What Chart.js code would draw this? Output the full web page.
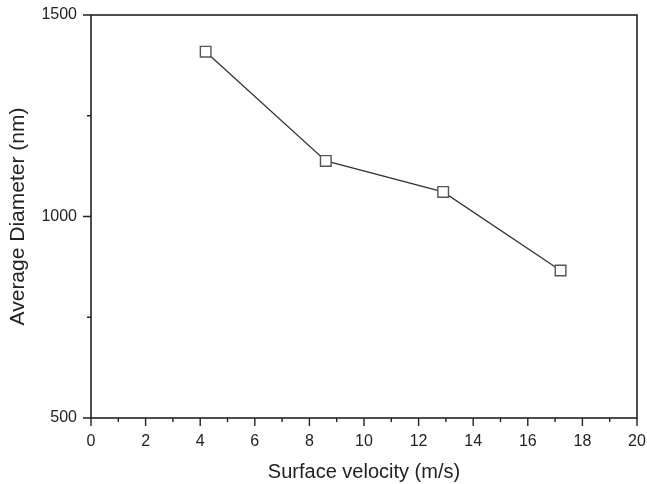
<!DOCTYPE html>
<html>
<head>
  <title>Average Diameter vs Surface velocity</title>
  <script src="https://cdn.jsdelivr.net/npm/chart.js"></script>
  <style>
    html, body { margin: 0; padding: 0; background: #fff; }
    #wrap { width: 647px; height: 484px; }
  </style>
</head>
<body>
<div id="wrap"><canvas id="diamChart" width="647" height="484"></canvas></div>
<script>
  // data
  const velocity = [4.2, 8.6, 12.9, 17.2];          // m/s
  const diameter = [1409, 1138, 1061, 866];         // nm
  const xMajor = [0, 2, 4, 6, 8, 10, 12, 14, 16, 18, 20];
  const yMajor = [500, 1000, 1500];

  const points = velocity.map((v, i) => ({ x: v, y: diameter[i] }));

  // frame + outward tick marks drawn through the scales
  const frameTicks = {
    id: 'frameTicks',
    afterDraw(chart) {
      const { ctx, chartArea: a, scales } = chart;
      const xs = scales.x, ys = scales.y;
      ctx.save();
      ctx.strokeStyle = '#222';
      ctx.lineWidth = 1.6;
      ctx.strokeRect(a.left, a.top, a.right - a.left, a.bottom - a.top);
      ctx.lineWidth = 1.4;
      ctx.beginPath();
      for (let v = xs.min; v <= xs.max; v += 1) {
        const px = xs.getPixelForValue(v);
        const len = xMajor.includes(v) ? 8 : 4;
        ctx.moveTo(px, a.bottom);
        ctx.lineTo(px, a.bottom + len);
      }
      for (let v = ys.min; v <= ys.max; v += 250) {
        const py = ys.getPixelForValue(v);
        const len = yMajor.includes(v) ? 8 : 4;
        ctx.moveTo(a.left, py);
        ctx.lineTo(a.left - len, py);
      }
      ctx.stroke();
      ctx.restore();
    }
  };

  const font = 'Liberation Sans, Arial, sans-serif';
  const ctx = document.getElementById('diamChart').getContext('2d');
  new Chart(ctx, {
    type: 'scatter',
    data: {
      datasets: [{
        label: 'Average Diameter',
        data: points,
        showLine: true,
        borderColor: '#333',
        borderWidth: 1.3,
        pointStyle: 'rect',
        pointRadius: 7.5,
        pointBorderWidth: 1.4,
        pointBorderColor: '#555',
        pointBackgroundColor: '#fff'
      }, {
        label: 'centre',
        data: points,
        showLine: false,
        pointStyle: 'circle',
        pointRadius: 0.8,
        pointBorderWidth: 0,
        pointBackgroundColor: '#999'
      }]
    },
    options: {
      responsive: false,
      animation: false,
      layout: { padding: { top: 15, right: 10, left: 0, bottom: 0 } },
      plugins: { legend: { display: false }, tooltip: { enabled: false } },
      scales: {
        x: {
          type: 'linear', min: 0, max: 20,
          afterFit(scale) {
            scale.height = 66;
            scale.paddingLeft = 0;
            scale.paddingRight = 0;
          },
          grid: { display: false, drawTicks: false },
          border: { display: false },
          ticks: {
            stepSize: 2, padding: 14,
            color: '#222', font: { family: font, size: 16 }
          },
          title: {
            display: true, text: 'Surface velocity (m/s)', color: '#222',
            font: { family: font, size: 20 },
            padding: { top: 6, bottom: 0 }
          }
        },
        y: {
          type: 'linear', min: 500, max: 1500,
          afterFit(scale) {
            scale.width = 91;
            scale.paddingTop = 0;
            scale.paddingBottom = 0;
          },
          grid: { display: false, drawTicks: false },
          border: { display: false },
          ticks: {
            stepSize: 500, padding: 14,
            color: '#222', font: { family: font, size: 16 },
            callback: v => String(v)
          },
          title: {
            display: true, text: 'Average Diameter (nm)', color: '#222',
            font: { family: font, size: 21 },
            padding: { top: 6, bottom: 0 }
          }
        }
      }
    },
    plugins: [frameTicks]
  });
</script>
</body>
</html>
